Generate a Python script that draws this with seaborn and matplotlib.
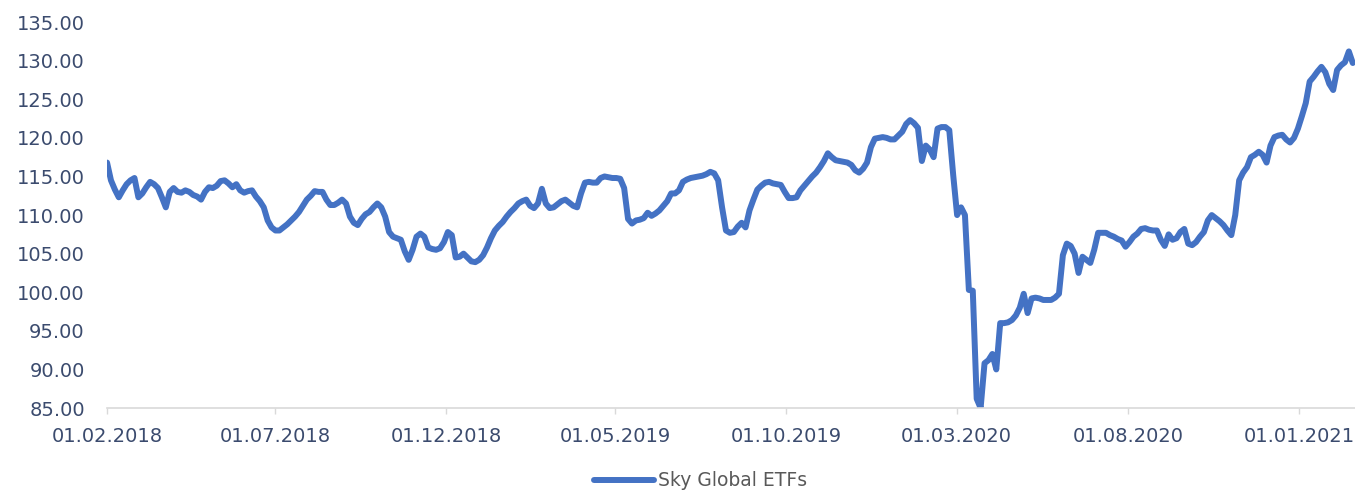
import matplotlib
matplotlib.use("Agg")
import matplotlib.pyplot as plt
import matplotlib.dates as mdates
import matplotlib.ticker as mticker
import numpy as np
import pandas as pd
import seaborn as sns

# Index level of the fund, sampled every 3.5 days from 01.02.2018
start_date = "2018-02-01"
sample_step = "84h"
series_name = "Sky Global ETFs"
index_values = [
    116.8, 114.5, 113.3, 112.3, 113.2, 114.0, 114.5, 114.8, 112.3, 112.8,
    113.6, 114.3, 114.0, 113.5, 112.3, 111.0, 113.0, 113.5, 113.0, 112.9,
    113.2, 113.0, 112.6, 112.4, 112.0, 113.0, 113.6, 113.5, 113.8, 114.4,
    114.5, 114.1, 113.6, 114.0, 113.2, 112.9, 113.1, 113.2, 112.4, 111.8,
    111.0, 109.3, 108.4, 108.0, 108.0, 108.4, 108.8, 109.3, 109.8, 110.4,
    111.2, 112.0, 112.5, 113.1, 113.0, 113.0, 112.0, 111.3, 111.3, 111.6,
    112.0, 111.5, 109.8, 109.0, 108.7, 109.5, 110.1, 110.4, 111.0, 111.5,
    111.0, 109.8, 107.8, 107.2, 107.0, 106.8, 105.3, 104.2, 105.5, 107.2,
    107.6, 107.2, 105.8, 105.6, 105.5, 105.7, 106.5, 107.8, 107.4, 104.5,
    104.6, 105.0, 104.5, 104.0, 103.9, 104.2, 104.8, 105.8, 107.0, 108.0,
    108.6, 109.1, 109.8, 110.4, 110.9, 111.5, 111.8, 112.0, 111.2, 110.9,
    111.5, 113.4, 111.5, 110.9, 111.0, 111.4, 111.8, 112.0, 111.6, 111.2,
    111.0, 112.8, 114.2, 114.3, 114.2, 114.2, 114.8, 115.0, 114.9, 114.8,
    114.8, 114.7, 113.5, 109.5, 108.9, 109.3, 109.4, 109.6, 110.3, 109.9,
    110.2, 110.6, 111.2, 111.8, 112.8, 112.8, 113.2, 114.3, 114.6, 114.8,
    114.9, 115.0, 115.1, 115.3, 115.6, 115.4, 114.5, 111.0, 108.0, 107.7,
    107.8, 108.5, 109.0, 108.4, 110.6, 112.0, 113.3, 113.8, 114.2, 114.3,
    114.1, 114.0, 113.9, 113.0, 112.2, 112.2, 112.3, 113.2, 113.8, 114.4,
    115.0, 115.5, 116.2, 117.0, 118.0, 117.5, 117.1, 117.0, 116.9, 116.8,
    116.5, 115.8, 115.5, 116.0, 116.8, 118.8, 119.9, 120.0, 120.1, 120.0,
    119.8, 119.8, 120.3, 120.8, 121.8, 122.3, 121.9, 121.3, 117.0, 119.0,
    118.5, 117.5, 121.2, 121.4, 121.4, 121.0, 115.2, 110.0, 111.0, 110.0,
    100.3, 100.2, 86.2, 85.0, 90.8, 91.2, 92.0, 90.0, 96.0, 96.0,
    96.1, 96.4, 97.0, 98.0, 99.8, 97.3, 99.2, 99.3, 99.2, 99.0,
    99.0, 99.0, 99.3, 99.8, 104.8, 106.3, 106.0, 105.0, 102.5, 104.6,
    104.2, 103.8, 105.5, 107.7, 107.7, 107.7, 107.4, 107.2, 106.9, 106.7,
    105.9, 106.5, 107.2, 107.6, 108.2, 108.3, 108.1, 108.0, 108.0, 106.8,
    106.0, 107.5, 106.8, 107.0, 107.8, 108.2, 106.3, 106.1, 106.5, 107.2,
    107.8, 109.3, 110.0, 109.6, 109.2, 108.7, 108.0, 107.4, 110.0, 114.5,
    115.5, 116.2, 117.5, 117.8, 118.2, 117.8, 116.8, 119.0, 120.1, 120.3,
    120.4, 119.8, 119.4, 120.0, 121.2, 122.8, 124.5, 127.3, 127.9, 128.6,
    129.2, 128.5, 127.0, 126.2, 128.8, 129.4, 129.8, 131.2, 129.7,
]
tick_dates = ["2018-02-01", "2018-07-01", "2018-12-01", "2019-05-01",
              "2019-10-01", "2020-03-01", "2020-08-01", "2021-01-01"]
y_ticks = [85, 90, 95, 100, 105, 110, 115, 120, 125, 130, 135]

df = pd.DataFrame({
    "date": pd.date_range(start_date, periods=len(index_values), freq=sample_step),
    "value": index_values,
})

sns.set_theme(style="white")
plt.rcParams["font.family"] = ["DejaVu Sans"]

line_color = "#4472C4"
label_color = "#3B4B6E"

fig = plt.figure(figsize=(13.55, 4.91), dpi=100)
ax = fig.add_axes([0.079, 0.169, 0.921, 0.786])

sns.lineplot(data=df, x="date", y="value", ax=ax, color=line_color,
             linewidth=4.3, label=series_name, legend=False)

ax.set_xlim(pd.Timestamp("2018-02-01"), pd.Timestamp("2021-02-20"))
ax.set_ylim(min(y_ticks), max(y_ticks))
ax.set_yticks(y_ticks)
ax.yaxis.set_major_formatter(mticker.FormatStrFormatter("%.2f"))
ax.set_xticks([pd.Timestamp(d) for d in tick_dates])
ax.xaxis.set_major_formatter(mdates.DateFormatter("%d.%m.%Y"))

ax.set_xlabel("")
ax.set_ylabel("")
for side in ["top", "right", "left"]:
    ax.spines[side].set_visible(False)
ax.spines["bottom"].set_color("#D9D9D9")
ax.spines["bottom"].set_linewidth(1.2)
ax.grid(False)

ax.tick_params(axis="y", length=0, pad=16, labelsize=14, labelcolor=label_color)
ax.tick_params(axis="x", length=4, width=1, color="#D9D9D9", direction="out",
               pad=10, labelsize=14, labelcolor=label_color, bottom=True)

handles, labels = ax.get_legend_handles_labels()
fig.legend(handles, labels, loc="center", bbox_to_anchor=(0.517, 1 - 481 / 491),
           frameon=False, fontsize=13.5, labelcolor="#595959",
           handlelength=3.2, handletextpad=0.2)

fig.savefig("out.png", dpi=100, facecolor="white")
